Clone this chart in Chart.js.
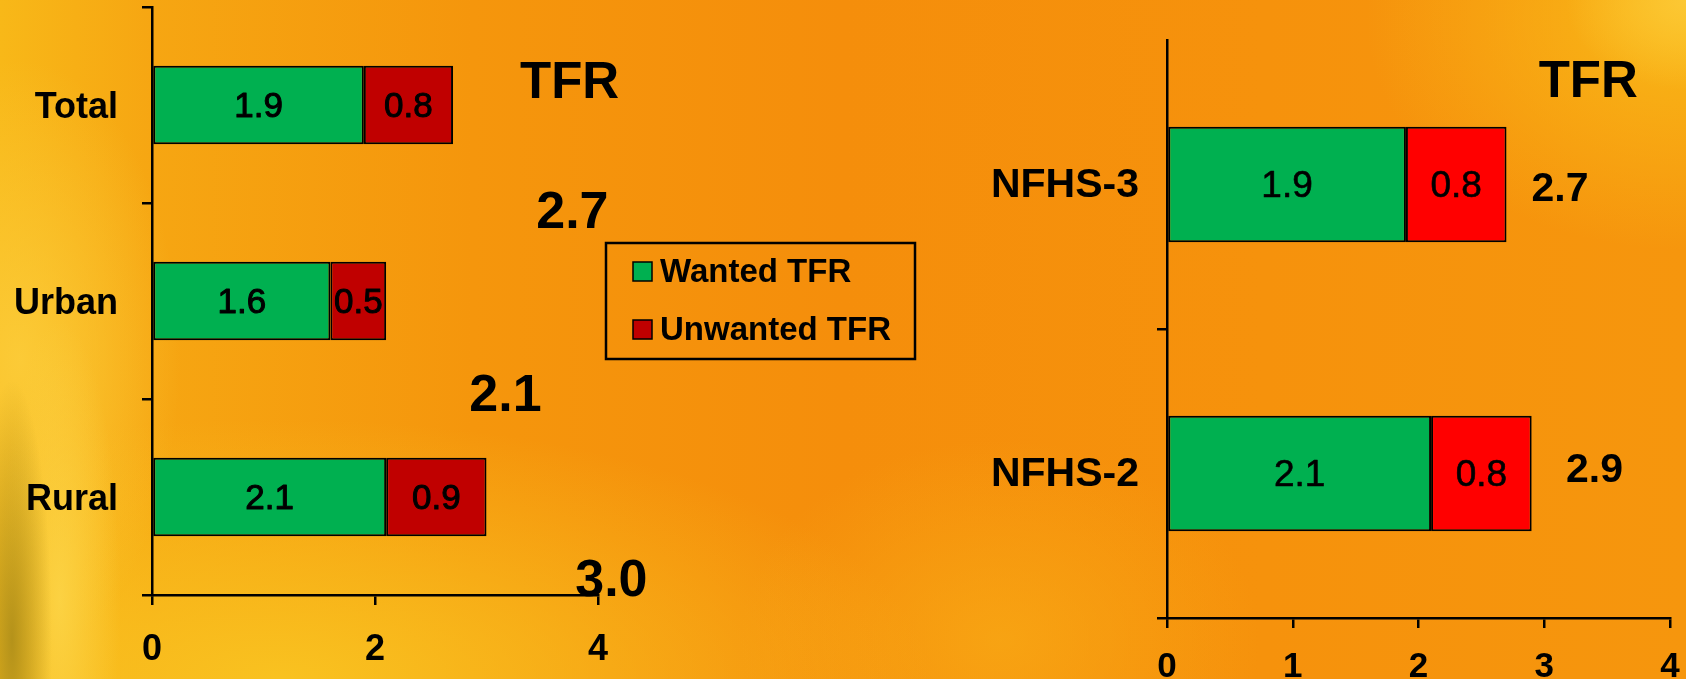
<!DOCTYPE html>
<html><head><meta charset="utf-8">
<script src="https://cdn.jsdelivr.net/npm/chart.js@4.4.0/dist/chart.umd.min.js"></script>
<style>
html,body{margin:0;padding:0;width:1686px;height:679px;overflow:hidden;}
body{position:relative;
background:
 radial-gradient(ellipse 120px 90px at 1686px 0px, rgba(252,200,52,1) 0%, rgba(252,200,52,0) 100%),
 radial-gradient(ellipse 320px 230px at 1686px 20px, rgba(249,184,24,1) 0%, rgba(249,184,24,0) 100%),
 radial-gradient(ellipse 40px 260px at 12px 640px, rgba(180,146,26,1) 0%, rgba(180,146,26,0) 100%),
 radial-gradient(ellipse 60px 280px at 60px 600px, rgba(252,212,70,0.9) 0%, rgba(252,212,70,0) 100%),
 radial-gradient(ellipse 160px 300px at 20px 360px, rgba(252,206,60,0.85) 0%, rgba(252,206,60,0) 100%),
 radial-gradient(ellipse 650px 260px at 280px 679px, rgba(249,194,32,1) 0%, rgba(249,194,32,0) 100%),
 radial-gradient(ellipse 260px 200px at 1000px 640px, rgba(248,168,20,0.8) 0%, rgba(248,168,20,0) 100%),
 linear-gradient(90deg, #F8B818 0%, #F6A612 9%, #F5960C 28%, #F58E0B 50%, #F6920C 75%, #F6960D 100%);}
#left{position:absolute;left:0;top:0;}
#right{position:absolute;left:960px;top:0;}
</style></head><body>
<canvas id="left" width="960" height="679"></canvas>
<canvas id="right" width="726" height="679"></canvas>
<script>
// ---- data ----
const leftCategories = ['Total', 'Urban', 'Rural'];
const leftWanted = [1.9, 1.6, 2.1];
const leftUnwanted = [0.8, 0.5, 0.9];
const leftTotals = [2.7, 2.1, 3.0];
const leftTicks = [0, 2, 4];

const rightCategories = ['NFHS-3', 'NFHS-2'];
const rightWanted = [1.9, 2.1];
const rightUnwanted = [0.8, 0.8];
const rightTotals = [2.7, 2.9];
const rightTicks = [0, 1, 2, 3, 4];

const seriesNames = ['Wanted TFR', 'Unwanted TFR'];
const titleText = 'TFR';

// ---- drawing ----
const FF = "'Liberation Sans', Arial, sans-serif";
Chart.defaults.font.family = FF;
Chart.defaults.color = '#000';

const barLabels = {
  id: 'barLabels',
  afterDatasetsDraw(chart, args, o) {
    const ctx = chart.ctx;
    ctx.save();
    ctx.font = `${o.size}px ${FF}`;
    ctx.fillStyle = '#000';
    ctx.strokeStyle = '#000';
    ctx.lineWidth = o.stroke;
    ctx.lineJoin = 'round';
    ctx.textAlign = 'center';
    ctx.textBaseline = 'middle';
    chart.data.datasets.forEach((ds, di) => {
      chart.getDatasetMeta(di).data.forEach((el, i) => {
        const p = el.getProps(['x', 'y', 'base'], true);
        const t = ds.data[i].toFixed(1);
        const cx = (p.x + p.base) / 2, cy = p.y + 2;
        ctx.fillText(t, cx, cy);
        if (o.stroke > 0) ctx.strokeText(t, cx, cy);
      });
    });
    ctx.restore();
  }
};

const annot = {
  id: 'annot',
  afterDraw(chart, args, o) {
    const ctx = chart.ctx;
    const x = chart.scales.x, y = chart.scales.y;
    ctx.save();
    ctx.fillStyle = '#000';
    ctx.textAlign = 'center';
    ctx.textBaseline = 'middle';
    ctx.font = `bold ${o.titleSize}px ${FF}`;
    ctx.fillText(o.title, x.getPixelForValue(o.titlePos[0]), y.getPixelForValue(o.titlePos[1]));
    ctx.font = `bold ${o.totalSize}px ${FF}`;
    o.totals.forEach((t, i) => {
      ctx.fillText(t.toFixed(1), x.getPixelForValue(o.totalPos[i][0]), y.getPixelForValue(o.totalPos[i][1]));
    });
    if (o.legend) {
      const bx = chart.chartArea.right + 8, by = 243, bw = 309, bh = 116;
      ctx.lineWidth = 2.5;
      ctx.strokeStyle = '#000';
      ctx.strokeRect(bx, by, bw, bh);
      ctx.font = `bold 33px ${FF}`;
      ctx.textAlign = 'left';
      chart.data.datasets.forEach((ds, i) => {
        const ry = by + 19 + i * 58;
        ctx.fillStyle = o.legendColors[i];
        ctx.fillRect(bx + 27, ry, 19, 19);
        ctx.lineWidth = 1.5;
        ctx.strokeRect(bx + 27, ry, 19, 19);
        ctx.fillStyle = '#000';
        ctx.fillText(ds.label, bx + 54, ry + 11);
      });
    }
    ctx.restore();
  }
};

function zeroPad(s) { s.paddingTop = 0; s.paddingBottom = 0; s.paddingLeft = 0; s.paddingRight = 0; }

function makeChart(id, cfg) {
  return new Chart(document.getElementById(id), {
    type: 'bar',
    data: {
      labels: cfg.labels,
      datasets: [
        { label: seriesNames[0], data: cfg.wanted, backgroundColor: '#00B050', borderColor: '#000', borderWidth: 2, borderSkipped: false, barPercentage: 0.5, categoryPercentage: 0.8 },
        { label: seriesNames[1], data: cfg.unwanted, backgroundColor: cfg.red, borderColor: '#000', borderWidth: 2, borderSkipped: false, barPercentage: 0.5, categoryPercentage: 0.8 }
      ]
    },
    options: {
      indexAxis: 'y',
      responsive: false,
      animation: false,
      events: [],
      layout: { autoPadding: false, padding: cfg.padding },
      scales: {
        x: {
          stacked: true, min: 0, max: 4,
          afterBuildTicks: s => { s.ticks = cfg.ticks.map(v => ({ value: v })); },
          afterFit: s => { s.height = cfg.xHeight; zeroPad(s); },
          ticks: { font: { size: cfg.xTickSize, weight: 'bold' }, color: '#000', padding: cfg.xTickPad, maxRotation: 0, autoSkip: false },
          grid: { drawOnChartArea: false, drawTicks: true, tickLength: 10, color: '#000', lineWidth: 2.5 },
          border: { display: true, color: '#000', width: 2.5 }
        },
        y: {
          stacked: true,
          afterFit: s => { s.width = cfg.yWidth; zeroPad(s); },
          ticks: { font: { size: cfg.yTickSize, weight: 'bold' }, color: '#000', padding: cfg.yTickPad, labelOffset: cfg.yLabelOffset },
          grid: { offset: true, drawOnChartArea: false, drawTicks: true, tickLength: 10, lineWidth: 2.5,
                  color: c => (cfg.hideTopTick && c.index === 0) ? 'rgba(0,0,0,0)' : '#000' },
          border: { display: true, color: '#000', width: 2.5 }
        }
      },
      plugins: {
        legend: { display: false },
        tooltip: { enabled: false },
        barLabels: { size: cfg.barLabelSize, stroke: cfg.barLabelStroke },
        annot: cfg.annot
      }
    },
    plugins: [barLabels, annot]
  });
}

makeChart('left', {
  labels: leftCategories, wanted: leftWanted, unwanted: leftUnwanted, red: '#C00000', ticks: leftTicks,
  padding: { top: 7, right: 362, left: 0, bottom: 0 },
  xHeight: 84, yWidth: 152, xTickSize: 36, xTickPad: 23, yTickSize: 36, yTickPad: 24, yLabelOffset: 3,
  hideTopTick: false, barLabelSize: 35, barLabelStroke: 1.0,
  annot: {
    title: titleText, titleSize: 51, titlePos: [3.745, -0.11],
    totals: leftTotals, totalSize: 52, totalPos: [[3.77, 0.556], [3.17, 1.49], [4.12, 2.434]],
    legend: true, legendColors: ['#00B050', '#C00000']
  }
});

makeChart('right', {
  labels: rightCategories, wanted: rightWanted, unwanted: rightUnwanted, red: '#FF0000', ticks: rightTicks,
  padding: { top: 40, right: 16, left: 0, bottom: 0 },
  xHeight: 61, yWidth: 207, xTickSize: 35, xTickPad: 18, yTickSize: 41, yTickPad: 18, yLabelOffset: 1,
  hideTopTick: true, barLabelSize: 37, barLabelStroke: 0.6,
  annot: {
    title: titleText, titleSize: 51, titlePos: [3.35, -0.351],
    totals: rightTotals, totalSize: 41, totalPos: [[3.125, 0.018], [3.40, 0.99]],
    legend: false
  }
});
</script>
</body></html>
